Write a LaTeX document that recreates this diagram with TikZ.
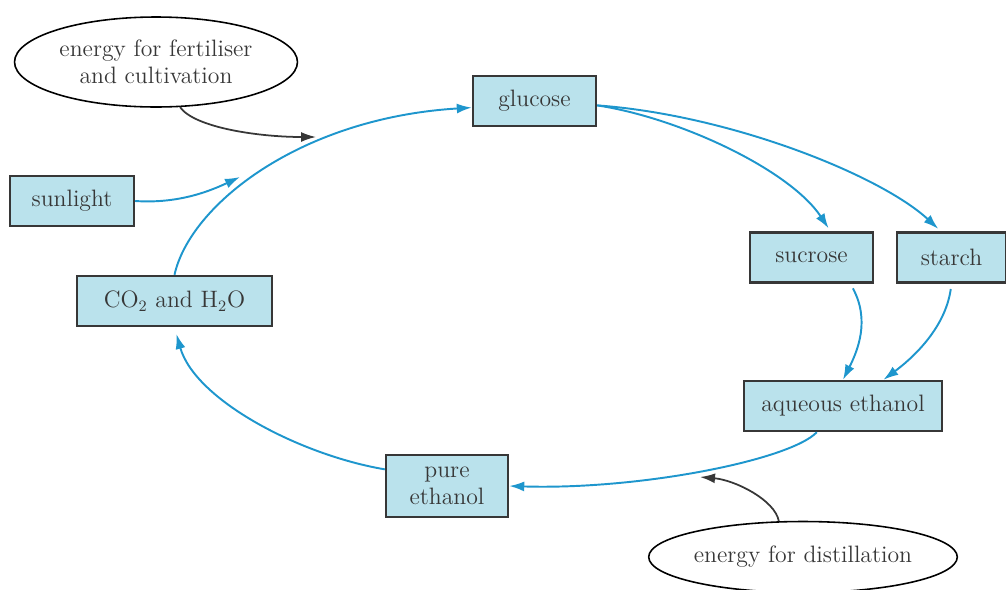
\documentclass[tikz,border=0pt]{standalone}
\usetikzlibrary{arrows.meta,shapes.geometric}
\definecolor{boxfill}{RGB}{186,226,236}
\definecolor{flow}{RGB}{30,150,205}
\definecolor{ink}{RGB}{55,55,55}

\begin{document}
\begin{tikzpicture}[x=0.02cm,y=-0.02cm,
  font=\fontsize{13.5}{15.5}\selectfont,
  box/.style={draw=ink,line width=1.4pt,fill=boxfill,text=ink,minimum width=2.46cm,minimum height=1cm,inner sep=2pt},
  bubble/.style={ellipse,draw=black,line width=0.9pt,text=ink,inner sep=0pt,align=center},
  flowarrow/.style={flow,line width=1.1pt,-{Latex[length=0.3cm,width=0.2cm]}},
  energy/.style={ink,line width=1pt,-{Latex[length=0.3cm,width=0.2cm]}}]
  \useasboundingbox (0,0) rectangle (1006,589);
  % boxes of the cycle
  \node[box] (glucose) at (534.5,101) {glucose};
  \node[box,minimum width=2.48cm] (sunlight) at (72,201) {sunlight};
  \node[box,minimum width=3.9cm] (co2) at (174.5,301) {CO$_2$ and H$_2$O};
  \node[box] (sucrose) at (811.5,257.5) {sucrose};
  \node[box,minimum width=2.18cm] (starch) at (951.5,257.5) {starch};
  \node[box,minimum width=3.96cm] (aqueous) at (843,406) {aqueous ethanol};
  \node[box,minimum width=2.44cm,minimum height=1.24cm,align=center] (pure) at (447,486) {pure\\ethanol};
  % energy inputs
  \node[bubble,minimum width=5.66cm,minimum height=1.8cm] (fert) at (156,62) {energy for fertiliser\\and cultivation};
  \node[bubble,minimum width=5.74cm,minimum height=1.42cm] (dist) at (803,557) {energy for distillation};
  \coordinate (fertin) at (316,137);
  \coordinate (sunin) at (240,177);
  \coordinate (distin) at (700,477);

  \draw[flowarrow] (co2.north) .. controls (190,205) and (300,118) .. (glucose.186);
  \draw[flowarrow] (sunlight.east) .. controls (180,204) and (212,190) .. (sunin);
  \draw[energy] (fert.-62) .. controls (195,128) and (260,137) .. (fertin);
  \draw[flowarrow,shorten >=2pt] (glucose.-4) .. controls (680,118) and (790,170) .. (sucrose.54);
  \draw[flowarrow,shorten >=2pt] (glucose.-4) .. controls (730,115) and (880,175) .. (starch.112);
  \draw[flowarrow,shorten <=3pt] (sucrose.-34) .. controls (870,320) and (858,350) .. (aqueous.north);
  \draw[flowarrow,shorten <=3pt] (starch.south) .. controls (945,330) and (910,360) .. (aqueous.33);
  \draw[flowarrow] (aqueous.-135) .. controls (790,460) and (640,490) .. (pure.east);
  \draw[flowarrow,shorten >=4pt] (pure.165) .. controls (300,455) and (195,400) .. (co2.south);
  \draw[energy] (dist.124) .. controls (775,500) and (735,480) .. (distin);
\end{tikzpicture}
\end{document}
